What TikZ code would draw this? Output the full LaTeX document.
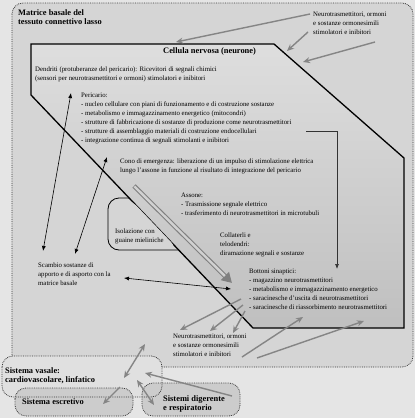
\documentclass[tikz,border=0pt]{standalone}
\usepackage{fontspec}
\setmainfont{Liberation Serif}
\usetikzlibrary{arrows.meta}
\definecolor{pagebg}{gray}{0.90}
\definecolor{matrixbg}{gray}{0.835}
\definecolor{neutop}{gray}{0.87}
\definecolor{neubot}{gray}{0.75}
\definecolor{vasbg}{gray}{0.88}
\definecolor{sysbg}{gray}{0.80}
\definecolor{garr}{gray}{0.52}
\begin{document}
\begin{tikzpicture}[x=1pt,y=-1pt,
  txt/.style={anchor=north west, inner sep=0pt, align=left, font=\fontsize{6.8}{9}\selectfont},
  btxt/.style={anchor=north west, inner sep=0pt, align=left, font=\fontsize{8.4}{9.5}\selectfont\bfseries},
  garrow/.style={draw=garr, line width=1.4pt, -{Stealth[length=7pt,width=6pt]}},
  gdarrow/.style={draw=garr, line width=1.4pt, {Stealth[length=7pt,width=6pt]}-{Stealth[length=7pt,width=6pt]}},
  barrow/.style={draw=black, line width=0.6pt, {Latex[length=5pt,width=4pt]}-{Latex[length=5pt,width=4pt]}},
  sysborder/.style={draw=gray!45!black, densely dotted, line width=0.8pt, rounded corners=11pt},
]
\useasboundingbox (0,0) rectangle (415,418);
\fill[pagebg] (0,0) rectangle (415,418);

% matrix
\fill[matrixbg, rounded corners=11pt] (12,3) rectangle (413,367);
\draw[sysborder] (12,3) rectangle (413,367);

% neuron
\shade[top color=neutop, bottom color=neubot] (31,44) -- (274,44) -- (404,158) -- (404,328) -- (253,328) -- (31,95) -- cycle;
\draw[line width=1.3pt, line join=miter] (31,44) -- (274,44) -- (404,158) -- (404,328) -- (253,328) -- (31,95) -- cycle;

% myelin
\fill[matrixbg, rounded corners=11pt] (129.1,198) -- (108,198) -- (108,250) -- (178.7,250) -- cycle;
\draw[line width=0.8pt, rounded corners=11pt] (129.1,198) -- (108,198) -- (108,250) -- (178.7,250);

% axon
\coordinate (axs) at (134,186);
\coordinate (axe) at (232,283);
\draw[line width=4.6pt, black!50, -{Triangle[length=10pt,width=11pt]}] (axs) -- (axe);
\draw[line width=2.4pt, black!18, shorten >=10pt, shorten <=0.6pt] (axs) -- (axe);

% texts
\node[btxt] (matrixlbl) at (18,9) {Matrice basale del\\tessuto connettivo lasso};
\node[btxt] (cell) at (163,47) {Cellula nervosa (neurone)};
\node[txt] (dend) at (35,66.5) {Dendriti (protuberanze del pericario): Ricevitori di segnali chimici\\(sensori per neurotrasmettitori e ormoni) stimolatori e inibitori};
\node[txt] (peric) at (81,93) {Pericario:\\- nucleo cellulare con piani di funzionamento e di costruzione sostanze\\- metabolismo e immagazzinamento energetico (mitocondri)\\- strutture di fabbricazione di sostanze di produzione come neurotrasmettitori\\- strutture di assemblaggio materiali di costruzione endocellulari\\- integrazione continua di segnali stimolanti e inibitori};
\node[txt] (cono) at (120,159) {Cono di emergenza: liberazione di un impulso di stimolazione elettrica\\lungo l'assone in funzione al risultato di integrazione del pericario};
\node[txt] (assone) at (181,193) {Assone:\\- Trasmissione segnale elettrico\\- trasferimento di neurotrasmettitori in microtubuli};
\node[txt] (coll) at (220,233) {Collaterli e\\telodendri:\\diramazione segnali e sostanze};
\node[txt] (bott) at (249,269) {Bottoni sinaptici:\\- magazzino neurotrasmettitori\\- metabolismo e immagazzinamento energetico\\- saracinesche d'uscita di neurotrasmettitori\\- saracinesche di riassorbimento neurotrasmettitori};
\node[txt] (isol) at (115,229) {Isolazione con\\guaine mieliniche};
\node[txt] (scambio) at (38,262.5) {Scambio sostanze di\\apporto e di asporto con la\\matrice basale};
\node[txt] (ntop) at (313,11.5) {Neurotrasmettitori, ormoni\\e sostanze ormonesimili\\stimolatori e inibitori};
\node[txt] (nbot) at (173,333.5) {Neurotrasmettitori, ormoni\\e sostanze ormonesimili\\stimolatori e inibitori};

% black arrows
\coordinate (b1a) at (43,251); \coordinate (b1b) at (71,93);
\coordinate (b2a) at (75,254); \coordinate (b2b) at (107,157);
\coordinate (b3a) at (124,278); \coordinate (b3b) at (231,289);
\draw[barrow] (b1a) -- (b1b);
\draw[barrow] (b2a) -- (b2b);
\draw[barrow] (b3a) -- (b3b);
\coordinate (pa) at (306,131); \coordinate (pb) at (337,269);
\draw[draw=black!80, line width=0.7pt, -{Latex[length=5pt,width=4pt]}] (pa) -| (pb);

% gray arrows top
\coordinate (ga1) at (310,14); \coordinate (ga2) at (176,42);
\coordinate (gb1) at (308,32); \coordinate (gb2) at (287,51);
\coordinate (gc1) at (375,42); \coordinate (gc2) at (303,62);
\draw[garrow] (ga1) -- (ga2);
\draw[garrow] (gb1) -- (gb2);
\draw[garrow] (gc1) -- (gc2);
% gray arrows bottom
\coordinate (gd1) at (241,299); \coordinate (gd1e) at (180,330);
\coordinate (gd2) at (243,305); \coordinate (gd2e) at (210,331);
\coordinate (gd3) at (245,311); \coordinate (gd3e) at (233,333);
\draw[garrow] (gd1) -- (gd1e);
\draw[garrow] (gd2) -- (gd2e);
\draw[garrow] (gd3) -- (gd3e);
\coordinate (ge1) at (242,357); \coordinate (ge1e) at (303,317);
\coordinate (ge2) at (257,358); \coordinate (ge2e) at (364,321);
\draw[garrow] (ge1) -- (ge1e);
\draw[garrow] (ge2) -- (ge2e);

% systems
\fill[vasbg, rounded corners=11pt] (2,356) rectangle (162,397);
\fill[sysbg, rounded corners=11pt] (15,388) rectangle (133,416);
\fill[sysbg, rounded corners=11pt] (142,383) rectangle (240,416);
\draw[sysborder] (2,356) rectangle (162,397);
\draw[sysborder] (15,388) rectangle (133,416);
\draw[sysborder] (142,383) rectangle (240,416);
\node[btxt] (vasale) at (5,367) {Sistema vasale:\\cardiovascolare, linfatico};
\node[btxt] (escretivo) at (22,398) {Sistema escretivo};
\node[btxt] (digerente) at (163,395) {Sistemi digerente\\e respiratorio};

\coordinate (f1a) at (145,344); \coordinate (f1b) at (124,378);
\coordinate (f2a) at (120,387); \coordinate (f2b) at (103,404);
\coordinate (f3a) at (137,380); \coordinate (f3b) at (154,405);
\coordinate (f4a) at (232,396); \coordinate (f4b) at (145,373);
\draw[gdarrow] (f1a) -- (f1b);
\draw[garrow] (f2a) -- (f2b);
\draw[gdarrow] (f3a) -- (f3b);
\draw[garrow] (f4a) -- (f4b);
\end{tikzpicture}
\end{document}
